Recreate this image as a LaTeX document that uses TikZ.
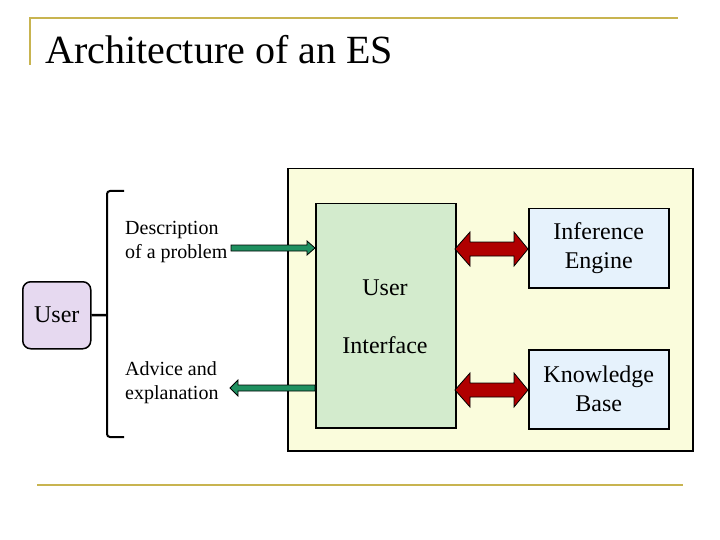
\documentclass[tikz,border=0pt]{standalone}
\usepackage{fontspec}
\setmainfont{Liberation Serif}
\usetikzlibrary{calc}
\definecolor{olive}{HTML}{C8B450}
\definecolor{outerfill}{HTML}{FAFCDC}
\definecolor{uifill}{HTML}{D3EBCD}
\definecolor{kbfill}{HTML}{E6F2FC}
\definecolor{userfill}{HTML}{E6D9F0}
\definecolor{grn}{HTML}{1F9060}
\definecolor{red2}{HTML}{B00000}
\tikzset{
  box/.style={draw=black,line width=1.5pt,inner sep=0pt,align=center},
  lbl/.style={font=\fontsize{24}{29}\selectfont,align=center},
  small/.style={font=\fontsize{20}{24}\selectfont,align=left,anchor=west},
  garrow/.style={fill=grn,draw=black,line width=0.8pt},
  rarrow/.style={fill=red2,draw=black,line width=0.8pt}
}
\begin{document}
\begin{tikzpicture}[x=1pt,y=-1pt]
\useasboundingbox (0,0) rectangle (720,540);
% title decoration
\draw[olive,line width=1.5pt] (30,65) -- (30,18) -- (678,18);
\draw[olive,line width=1.5pt] (37,485) -- (683,485);
\node[anchor=base west,inner sep=0pt,font=\fontsize{40}{44}\selectfont] (title) at (45,64) {Architecture of an ES};
% outer box
\node[box,fill=outerfill,minimum width=405,minimum height=282,anchor=north west] (outer) at (287,168) {};
\node[box,fill=uifill,minimum width=140,minimum height=224,anchor=north west] (ui) at (315,203) {};
\node[lbl] (uiA) at (385,288) {User};
\node[lbl] (uiB) at (385,345) {Interface};
\node[box,fill=kbfill,minimum width=140,minimum height=79,anchor=north west,lbl] (ie) at (528,208) {Inference\\Engine};
\node[box,fill=kbfill,minimum width=140,minimum height=79,anchor=north west,lbl] (kb) at (528,349) {Knowledge\\Base};
\node[box,fill=userfill,rounded corners=8pt,minimum width=68,minimum height=67,anchor=north west,lbl] (user) at (22,281) {User};
% bracket
\coordinate (bt) at (107,191);
\coordinate (bb) at (107,437);
\coordinate (bm) at (107,315);
\draw[line width=2pt,rounded corners=3pt] (124,191) -- (bt) -- (bb) -- (124,437);
\draw[line width=2.5pt] (user.east) -- (bm);
\node[small,inner sep=0pt] (desc) at (125,242) {Description\\of a problem};
\node[small,inner sep=0pt] (adv) at (125,383) {Advice and\\explanation};
% green arrows
\path[garrow] (231,245) -- (307,245) -- (307,241) -- (315,248) -- (307,255) -- (307,251) -- (231,251) -- cycle;
\path[garrow] (ui.west |- 0,385) -- (238,385) -- (238,380) -- (230,388) -- (238,396) -- (238,391) -- (ui.west |- 0,391) -- cycle;
% red double arrows
\foreach \y/\n in {249/ra,390/rb}{
  \path[rarrow] (455,\y) -- (470,\y-17) -- (470,\y-7) -- (514,\y-7) -- (514,\y-17) -- (528,\y) -- (514,\y+17) -- (514,\y+7) -- (470,\y+7) -- (470,\y+17) -- cycle;
}
\end{tikzpicture}
\end{document}
